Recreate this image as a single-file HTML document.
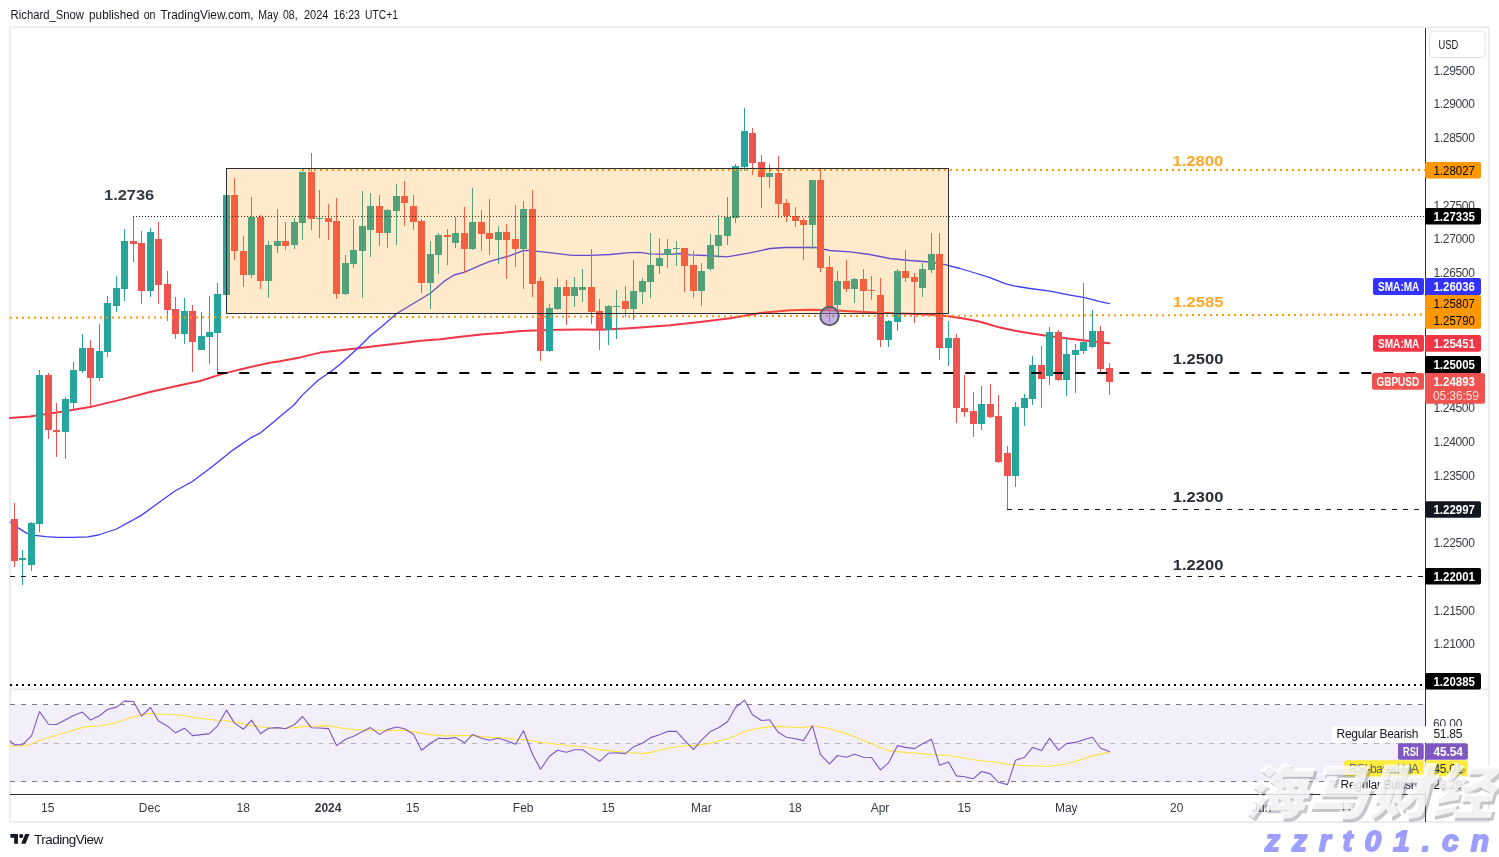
<!DOCTYPE html>
<html lang="en"><head><meta charset="utf-8"><title>GBPUSD chart</title>
<style>
html,body{margin:0;padding:0;background:#fff;}
body{width:1499px;height:857px;overflow:hidden;position:relative;font-family:"Liberation Sans","Noto Sans CJK SC",sans-serif;}
svg{position:absolute;left:0;top:0;display:block}
text{font-family:"Liberation Sans","Noto Sans CJK SC",sans-serif;}
.ax{font-size:12px;fill:#363a45}
.bx{font-size:12px;font-weight:bold;fill:#fff}
.an{font-size:14.5px;font-weight:bold}
.tm{font-size:12px;fill:#363a45}
</style></head><body>
<svg width="1499" height="857" viewBox="0 0 1499 857">
<rect x="0" y="0" width="1499" height="857" fill="#fff"/>
<text y="19" font-size="12" fill="#131722"><tspan x="10.6" textLength="73.4" lengthAdjust="spacingAndGlyphs">Richard_Snow</tspan> <tspan x="89.1" textLength="50.2" lengthAdjust="spacingAndGlyphs">published</tspan> <tspan x="143.7" textLength="11.8" lengthAdjust="spacingAndGlyphs">on</tspan> <tspan x="160.5" textLength="93.1" lengthAdjust="spacingAndGlyphs">TradingView.com,</tspan> <tspan x="258.3" textLength="19.9" lengthAdjust="spacingAndGlyphs">May</tspan> <tspan x="283" textLength="14.6" lengthAdjust="spacingAndGlyphs">08,</tspan> <tspan x="304" textLength="24.4" lengthAdjust="spacingAndGlyphs">2024</tspan> <tspan x="333.4" textLength="26.6" lengthAdjust="spacingAndGlyphs">16:23</tspan> <tspan x="365.1" textLength="32.8" lengthAdjust="spacingAndGlyphs">UTC+1</tspan></text>
<rect x="10" y="27.3" width="1479" height="794.7" fill="none" stroke="#ecedf3" stroke-width="2"/>
<rect x="10" y="704.5" width="1415" height="77" fill="#f2eefa"/>
<line x1="10" y1="689.3" x2="1489" y2="689.3" stroke="#e4e6ee" stroke-width="1.4"/>
<polyline points="10.0,418.1 30.0,416.5 60.0,411.9 90.0,407.1 120.0,399.9 150.0,392.0 180.0,385.2 200.0,381.0 220.0,374.6 240.0,369.4 270.0,362.7 280.0,361.3 300.0,357.4 320.1,352.6 340.2,350.2 358.3,348.2 380.3,345.6 400.4,343.2 420.5,340.8 440.5,339.2 460.6,336.8 480.7,334.6 500.7,332.9 520.8,331.1 540.9,330.2 561.0,329.7 580.0,329.5 600.0,329.7 625.0,328.4 640.0,327.4 670.0,325.3 700.0,322.0 730.0,318.3 760.0,312.9 790.0,310.3 810.0,309.7 830.0,310.3 850.0,311.3 880.0,312.7 910.0,313.7 940.0,315.3 950.0,316.6 965.0,318.8 980.0,321.8 1000.0,327.6 1015.0,330.8 1030.0,333.2 1050.0,336.2 1070.0,338.8 1085.0,340.6 1100.0,342.2 1109.5,343.2" fill="none" stroke="#f23645" stroke-width="2" stroke-linejoin="round" stroke-linecap="round" />
<polyline points="10.4,522.3 19.0,528.4 27.0,533.4 35.0,535.4 46.0,536.6 58.0,537.4 72.0,537.4 88.0,536.8 98.3,535.0 116.4,529.0 140.5,515.9 156.5,504.3 174.6,491.2 192.7,481.2 212.7,466.2 232.8,450.1 250.9,437.7 259.9,433.2 276.0,420.0 280.0,416.4 294.0,405.0 302.0,395.4 318.1,380.3 329.2,372.7 340.2,364.3 358.3,347.8 370.3,335.8 382.3,326.1 396.4,313.7 410.0,305.5 430.0,293.5 444.0,281.4 454.0,275.0 464.0,272.4 480.0,265.4 490.0,261.3 510.0,255.7 523.0,250.7 528.0,250.3 540.0,251.7 560.0,253.9 572.0,255.3 590.0,255.3 610.0,254.5 630.0,252.7 640.0,252.3 650.0,253.9 670.0,254.3 680.0,253.5 690.0,254.9 706.0,255.5 727.0,256.9 750.0,252.9 770.0,248.5 785.0,247.5 800.0,247.5 815.0,247.5 830.0,250.5 850.0,251.9 870.0,254.5 890.0,258.5 910.0,260.5 930.0,262.0 945.0,264.6 960.0,268.5 975.0,273.0 990.0,277.6 1005.0,283.6 1015.0,286.1 1030.0,288.5 1050.0,291.1 1070.0,295.1 1085.0,297.7 1100.0,301.7 1109.5,303.7" fill="none" stroke="#3d3dff" stroke-width="1.3" stroke-linejoin="round" stroke-linecap="round" />
<g shape-rendering="crispEdges">
<rect x="14" y="503" width="1" height="64" fill="#ef5350"/>
<rect x="11" y="519" width="7" height="42" fill="#ef5350"/>
<rect x="22" y="550" width="1" height="35" fill="#26a69a"/>
<rect x="19" y="558" width="7" height="2" fill="#26a69a"/>
<rect x="31" y="522" width="1" height="49" fill="#26a69a"/>
<rect x="28" y="523" width="7" height="42" fill="#26a69a"/>
<rect x="39" y="370" width="1" height="162" fill="#26a69a"/>
<rect x="36" y="375" width="7" height="149" fill="#26a69a"/>
<rect x="48" y="373" width="1" height="66" fill="#ef5350"/>
<rect x="45" y="375" width="7" height="55" fill="#ef5350"/>
<rect x="56" y="403" width="1" height="54" fill="#ef5350"/>
<rect x="53" y="430" width="7" height="2" fill="#ef5350"/>
<rect x="65" y="397" width="1" height="62" fill="#26a69a"/>
<rect x="62" y="399" width="7" height="33" fill="#26a69a"/>
<rect x="73" y="362" width="1" height="48" fill="#26a69a"/>
<rect x="70" y="370" width="7" height="33" fill="#26a69a"/>
<rect x="82" y="334" width="1" height="39" fill="#26a69a"/>
<rect x="79" y="348" width="7" height="23" fill="#26a69a"/>
<rect x="90" y="340" width="1" height="66" fill="#ef5350"/>
<rect x="87" y="348" width="7" height="30" fill="#ef5350"/>
<rect x="99" y="324" width="1" height="57" fill="#26a69a"/>
<rect x="96" y="351" width="7" height="27" fill="#26a69a"/>
<rect x="107" y="296" width="1" height="61" fill="#26a69a"/>
<rect x="104" y="303" width="7" height="49" fill="#26a69a"/>
<rect x="116" y="276" width="1" height="36" fill="#26a69a"/>
<rect x="113" y="288" width="7" height="18" fill="#26a69a"/>
<rect x="124" y="229" width="1" height="72" fill="#26a69a"/>
<rect x="121" y="241" width="7" height="48" fill="#26a69a"/>
<rect x="133" y="217" width="1" height="45" fill="#ef5350"/>
<rect x="130" y="241" width="7" height="3" fill="#ef5350"/>
<rect x="141" y="231" width="1" height="73" fill="#ef5350"/>
<rect x="138" y="243" width="7" height="48" fill="#ef5350"/>
<rect x="150" y="228" width="1" height="69" fill="#26a69a"/>
<rect x="147" y="232" width="7" height="59" fill="#26a69a"/>
<rect x="158" y="222" width="1" height="82" fill="#ef5350"/>
<rect x="155" y="239" width="7" height="46" fill="#ef5350"/>
<rect x="167" y="271" width="1" height="50" fill="#ef5350"/>
<rect x="164" y="284" width="7" height="26" fill="#ef5350"/>
<rect x="175" y="297" width="1" height="42" fill="#ef5350"/>
<rect x="172" y="309" width="7" height="25" fill="#ef5350"/>
<rect x="184" y="298" width="1" height="46" fill="#26a69a"/>
<rect x="181" y="311" width="7" height="23" fill="#26a69a"/>
<rect x="192" y="305" width="1" height="67" fill="#ef5350"/>
<rect x="189" y="311" width="7" height="31" fill="#ef5350"/>
<rect x="201" y="312" width="1" height="38" fill="#26a69a"/>
<rect x="198" y="336" width="7" height="14" fill="#26a69a"/>
<rect x="209" y="296" width="1" height="68" fill="#26a69a"/>
<rect x="206" y="332" width="7" height="5" fill="#26a69a"/>
<rect x="217" y="283" width="1" height="90" fill="#26a69a"/>
<rect x="214" y="294" width="7" height="39" fill="#26a69a"/>
<rect x="226" y="195" width="1" height="100" fill="#26a69a"/>
<rect x="223" y="195" width="7" height="100" fill="#26a69a"/>
<rect x="234" y="178" width="1" height="82" fill="#ef5350"/>
<rect x="231" y="195" width="7" height="56" fill="#ef5350"/>
<rect x="243" y="236" width="1" height="51" fill="#ef5350"/>
<rect x="240" y="251" width="7" height="24" fill="#ef5350"/>
<rect x="251" y="197" width="1" height="81" fill="#26a69a"/>
<rect x="248" y="217" width="7" height="58" fill="#26a69a"/>
<rect x="260" y="215" width="1" height="74" fill="#ef5350"/>
<rect x="257" y="217" width="7" height="64" fill="#ef5350"/>
<rect x="268" y="241" width="1" height="57" fill="#26a69a"/>
<rect x="265" y="245" width="7" height="36" fill="#26a69a"/>
<rect x="277" y="209" width="1" height="44" fill="#26a69a"/>
<rect x="274" y="241" width="7" height="5" fill="#26a69a"/>
<rect x="285" y="222" width="1" height="28" fill="#ef5350"/>
<rect x="282" y="241" width="7" height="5" fill="#ef5350"/>
<rect x="294" y="218" width="1" height="31" fill="#26a69a"/>
<rect x="291" y="222" width="7" height="23" fill="#26a69a"/>
<rect x="302" y="170" width="1" height="70" fill="#26a69a"/>
<rect x="299" y="172" width="7" height="51" fill="#26a69a"/>
<rect x="311" y="153" width="1" height="77" fill="#ef5350"/>
<rect x="308" y="172" width="7" height="47" fill="#ef5350"/>
<rect x="319" y="190" width="1" height="48" fill="#26a69a"/>
<rect x="316" y="218" width="7" height="1" fill="#26a69a"/>
<rect x="328" y="204" width="1" height="36" fill="#ef5350"/>
<rect x="325" y="218" width="7" height="4" fill="#ef5350"/>
<rect x="336" y="198" width="1" height="101" fill="#ef5350"/>
<rect x="333" y="221" width="7" height="73" fill="#ef5350"/>
<rect x="345" y="255" width="1" height="40" fill="#26a69a"/>
<rect x="342" y="263" width="7" height="31" fill="#26a69a"/>
<rect x="353" y="219" width="1" height="49" fill="#26a69a"/>
<rect x="350" y="250" width="7" height="14" fill="#26a69a"/>
<rect x="362" y="191" width="1" height="107" fill="#26a69a"/>
<rect x="359" y="226" width="7" height="25" fill="#26a69a"/>
<rect x="370" y="193" width="1" height="64" fill="#26a69a"/>
<rect x="367" y="206" width="7" height="24" fill="#26a69a"/>
<rect x="379" y="195" width="1" height="51" fill="#ef5350"/>
<rect x="376" y="206" width="7" height="27" fill="#ef5350"/>
<rect x="387" y="209" width="1" height="39" fill="#26a69a"/>
<rect x="384" y="210" width="7" height="23" fill="#26a69a"/>
<rect x="396" y="184" width="1" height="61" fill="#26a69a"/>
<rect x="393" y="196" width="7" height="15" fill="#26a69a"/>
<rect x="404" y="181" width="1" height="45" fill="#ef5350"/>
<rect x="401" y="196" width="7" height="7" fill="#ef5350"/>
<rect x="413" y="195" width="1" height="35" fill="#ef5350"/>
<rect x="410" y="206" width="7" height="16" fill="#ef5350"/>
<rect x="421" y="219" width="1" height="74" fill="#ef5350"/>
<rect x="418" y="221" width="7" height="62" fill="#ef5350"/>
<rect x="430" y="241" width="1" height="68" fill="#26a69a"/>
<rect x="427" y="254" width="7" height="29" fill="#26a69a"/>
<rect x="438" y="233" width="1" height="41" fill="#26a69a"/>
<rect x="435" y="235" width="7" height="20" fill="#26a69a"/>
<rect x="447" y="229" width="1" height="36" fill="#ef5350"/>
<rect x="444" y="235" width="7" height="2" fill="#ef5350"/>
<rect x="455" y="217" width="1" height="31" fill="#26a69a"/>
<rect x="452" y="233" width="7" height="10" fill="#26a69a"/>
<rect x="464" y="207" width="1" height="66" fill="#ef5350"/>
<rect x="461" y="233" width="7" height="16" fill="#ef5350"/>
<rect x="472" y="188" width="1" height="62" fill="#26a69a"/>
<rect x="469" y="222" width="7" height="27" fill="#26a69a"/>
<rect x="481" y="210" width="1" height="41" fill="#ef5350"/>
<rect x="478" y="222" width="7" height="12" fill="#ef5350"/>
<rect x="489" y="199" width="1" height="56" fill="#ef5350"/>
<rect x="486" y="233" width="7" height="6" fill="#ef5350"/>
<rect x="498" y="226" width="1" height="38" fill="#26a69a"/>
<rect x="495" y="232" width="7" height="8" fill="#26a69a"/>
<rect x="506" y="224" width="1" height="55" fill="#ef5350"/>
<rect x="503" y="232" width="7" height="8" fill="#ef5350"/>
<rect x="515" y="205" width="1" height="62" fill="#ef5350"/>
<rect x="512" y="239" width="7" height="10" fill="#ef5350"/>
<rect x="523" y="201" width="1" height="88" fill="#26a69a"/>
<rect x="520" y="209" width="7" height="40" fill="#26a69a"/>
<rect x="532" y="190" width="1" height="107" fill="#ef5350"/>
<rect x="529" y="209" width="7" height="75" fill="#ef5350"/>
<rect x="540" y="277" width="1" height="84" fill="#ef5350"/>
<rect x="537" y="281" width="7" height="70" fill="#ef5350"/>
<rect x="549" y="304" width="1" height="48" fill="#26a69a"/>
<rect x="546" y="308" width="7" height="43" fill="#26a69a"/>
<rect x="557" y="278" width="1" height="32" fill="#26a69a"/>
<rect x="554" y="287" width="7" height="22" fill="#26a69a"/>
<rect x="566" y="280" width="1" height="45" fill="#ef5350"/>
<rect x="563" y="287" width="7" height="9" fill="#ef5350"/>
<rect x="574" y="277" width="1" height="30" fill="#26a69a"/>
<rect x="571" y="287" width="7" height="9" fill="#26a69a"/>
<rect x="582" y="269" width="1" height="33" fill="#26a69a"/>
<rect x="579" y="287" width="7" height="3" fill="#26a69a"/>
<rect x="591" y="249" width="1" height="75" fill="#ef5350"/>
<rect x="588" y="287" width="7" height="25" fill="#ef5350"/>
<rect x="599" y="299" width="1" height="51" fill="#ef5350"/>
<rect x="596" y="311" width="7" height="19" fill="#ef5350"/>
<rect x="608" y="305" width="1" height="40" fill="#26a69a"/>
<rect x="605" y="306" width="7" height="24" fill="#26a69a"/>
<rect x="616" y="290" width="1" height="49" fill="#26a69a"/>
<rect x="613" y="306" width="7" height="1" fill="#26a69a"/>
<rect x="625" y="286" width="1" height="31" fill="#ef5350"/>
<rect x="622" y="301" width="7" height="8" fill="#ef5350"/>
<rect x="633" y="260" width="1" height="60" fill="#26a69a"/>
<rect x="630" y="291" width="7" height="18" fill="#26a69a"/>
<rect x="642" y="278" width="1" height="26" fill="#26a69a"/>
<rect x="639" y="281" width="7" height="11" fill="#26a69a"/>
<rect x="650" y="233" width="1" height="65" fill="#26a69a"/>
<rect x="647" y="265" width="7" height="17" fill="#26a69a"/>
<rect x="659" y="238" width="1" height="36" fill="#26a69a"/>
<rect x="656" y="258" width="7" height="8" fill="#26a69a"/>
<rect x="667" y="239" width="1" height="29" fill="#26a69a"/>
<rect x="664" y="249" width="7" height="6" fill="#26a69a"/>
<rect x="676" y="241" width="1" height="25" fill="#26a69a"/>
<rect x="673" y="248" width="7" height="1" fill="#26a69a"/>
<rect x="684" y="248" width="1" height="44" fill="#ef5350"/>
<rect x="681" y="248" width="7" height="18" fill="#ef5350"/>
<rect x="693" y="251" width="1" height="47" fill="#ef5350"/>
<rect x="690" y="265" width="7" height="26" fill="#ef5350"/>
<rect x="701" y="263" width="1" height="43" fill="#26a69a"/>
<rect x="698" y="271" width="7" height="20" fill="#26a69a"/>
<rect x="710" y="234" width="1" height="37" fill="#26a69a"/>
<rect x="707" y="245" width="7" height="24" fill="#26a69a"/>
<rect x="718" y="215" width="1" height="43" fill="#26a69a"/>
<rect x="715" y="235" width="7" height="11" fill="#26a69a"/>
<rect x="727" y="197" width="1" height="48" fill="#26a69a"/>
<rect x="724" y="217" width="7" height="19" fill="#26a69a"/>
<rect x="735" y="164" width="1" height="59" fill="#26a69a"/>
<rect x="732" y="166" width="7" height="52" fill="#26a69a"/>
<rect x="744" y="108" width="1" height="63" fill="#26a69a"/>
<rect x="741" y="131" width="7" height="36" fill="#26a69a"/>
<rect x="752" y="128" width="1" height="47" fill="#ef5350"/>
<rect x="749" y="133" width="7" height="30" fill="#ef5350"/>
<rect x="761" y="155" width="1" height="53" fill="#ef5350"/>
<rect x="758" y="162" width="7" height="15" fill="#ef5350"/>
<rect x="769" y="164" width="1" height="24" fill="#26a69a"/>
<rect x="766" y="173" width="7" height="4" fill="#26a69a"/>
<rect x="778" y="156" width="1" height="62" fill="#ef5350"/>
<rect x="775" y="173" width="7" height="31" fill="#ef5350"/>
<rect x="786" y="199" width="1" height="23" fill="#ef5350"/>
<rect x="783" y="203" width="7" height="13" fill="#ef5350"/>
<rect x="795" y="207" width="1" height="20" fill="#ef5350"/>
<rect x="792" y="216" width="7" height="5" fill="#ef5350"/>
<rect x="803" y="218" width="1" height="42" fill="#ef5350"/>
<rect x="800" y="220" width="7" height="5" fill="#ef5350"/>
<rect x="812" y="180" width="1" height="69" fill="#26a69a"/>
<rect x="809" y="180" width="7" height="45" fill="#26a69a"/>
<rect x="820" y="168" width="1" height="104" fill="#ef5350"/>
<rect x="817" y="180" width="7" height="88" fill="#ef5350"/>
<rect x="829" y="256" width="1" height="66" fill="#ef5350"/>
<rect x="826" y="267" width="7" height="42" fill="#ef5350"/>
<rect x="837" y="271" width="1" height="39" fill="#26a69a"/>
<rect x="834" y="281" width="7" height="24" fill="#26a69a"/>
<rect x="846" y="260" width="1" height="32" fill="#ef5350"/>
<rect x="843" y="281" width="7" height="8" fill="#ef5350"/>
<rect x="854" y="278" width="1" height="25" fill="#26a69a"/>
<rect x="851" y="279" width="7" height="10" fill="#26a69a"/>
<rect x="863" y="269" width="1" height="43" fill="#ef5350"/>
<rect x="860" y="279" width="7" height="12" fill="#ef5350"/>
<rect x="871" y="276" width="1" height="24" fill="#ef5350"/>
<rect x="868" y="290" width="7" height="1" fill="#ef5350"/>
<rect x="880" y="278" width="1" height="69" fill="#ef5350"/>
<rect x="877" y="295" width="7" height="45" fill="#ef5350"/>
<rect x="888" y="320" width="1" height="27" fill="#26a69a"/>
<rect x="885" y="321" width="7" height="19" fill="#26a69a"/>
<rect x="897" y="269" width="1" height="62" fill="#26a69a"/>
<rect x="894" y="271" width="7" height="51" fill="#26a69a"/>
<rect x="905" y="250" width="1" height="32" fill="#ef5350"/>
<rect x="902" y="271" width="7" height="7" fill="#ef5350"/>
<rect x="914" y="273" width="1" height="50" fill="#ef5350"/>
<rect x="911" y="277" width="7" height="5" fill="#ef5350"/>
<rect x="922" y="263" width="1" height="34" fill="#26a69a"/>
<rect x="919" y="269" width="7" height="19" fill="#26a69a"/>
<rect x="931" y="233" width="1" height="40" fill="#26a69a"/>
<rect x="928" y="254" width="7" height="16" fill="#26a69a"/>
<rect x="939" y="233" width="1" height="127" fill="#ef5350"/>
<rect x="936" y="254" width="7" height="94" fill="#ef5350"/>
<rect x="948" y="321" width="1" height="45" fill="#26a69a"/>
<rect x="945" y="338" width="7" height="10" fill="#26a69a"/>
<rect x="956" y="334" width="1" height="89" fill="#ef5350"/>
<rect x="953" y="338" width="7" height="70" fill="#ef5350"/>
<rect x="964" y="375" width="1" height="42" fill="#ef5350"/>
<rect x="961" y="408" width="7" height="4" fill="#ef5350"/>
<rect x="973" y="392" width="1" height="45" fill="#ef5350"/>
<rect x="970" y="411" width="7" height="13" fill="#ef5350"/>
<rect x="981" y="386" width="1" height="44" fill="#26a69a"/>
<rect x="978" y="404" width="7" height="20" fill="#26a69a"/>
<rect x="990" y="384" width="1" height="34" fill="#ef5350"/>
<rect x="987" y="404" width="7" height="13" fill="#ef5350"/>
<rect x="998" y="395" width="1" height="68" fill="#ef5350"/>
<rect x="995" y="416" width="7" height="46" fill="#ef5350"/>
<rect x="1007" y="446" width="1" height="63" fill="#ef5350"/>
<rect x="1004" y="453" width="7" height="23" fill="#ef5350"/>
<rect x="1015" y="402" width="1" height="85" fill="#26a69a"/>
<rect x="1012" y="407" width="7" height="69" fill="#26a69a"/>
<rect x="1024" y="394" width="1" height="32" fill="#26a69a"/>
<rect x="1021" y="398" width="7" height="10" fill="#26a69a"/>
<rect x="1032" y="356" width="1" height="49" fill="#26a69a"/>
<rect x="1029" y="365" width="7" height="34" fill="#26a69a"/>
<rect x="1041" y="346" width="1" height="62" fill="#ef5350"/>
<rect x="1038" y="365" width="7" height="14" fill="#ef5350"/>
<rect x="1049" y="327" width="1" height="58" fill="#26a69a"/>
<rect x="1046" y="332" width="7" height="44" fill="#26a69a"/>
<rect x="1058" y="330" width="1" height="51" fill="#ef5350"/>
<rect x="1055" y="332" width="7" height="48" fill="#ef5350"/>
<rect x="1066" y="339" width="1" height="57" fill="#26a69a"/>
<rect x="1063" y="354" width="7" height="26" fill="#26a69a"/>
<rect x="1075" y="344" width="1" height="49" fill="#26a69a"/>
<rect x="1072" y="350" width="7" height="5" fill="#26a69a"/>
<rect x="1083" y="283" width="1" height="71" fill="#26a69a"/>
<rect x="1080" y="342" width="7" height="9" fill="#26a69a"/>
<rect x="1092" y="310" width="1" height="38" fill="#26a69a"/>
<rect x="1089" y="331" width="7" height="16" fill="#26a69a"/>
<rect x="1100" y="326" width="1" height="46" fill="#ef5350"/>
<rect x="1097" y="331" width="7" height="38" fill="#ef5350"/>
<rect x="1109" y="363" width="1" height="32" fill="#ef5350"/>
<rect x="1106" y="368" width="7" height="14" fill="#ef5350"/>
</g>
<line x1="133" y1="216.5" x2="1425" y2="216.5" stroke="#131722" stroke-width="1" stroke-dasharray="1 2"/>
<rect x="226.5" y="168.5" width="722" height="145" fill="rgba(255,152,0,0.2)" stroke="#2a2e39" stroke-width="1"/>
<line x1="302" y1="170" x2="1426" y2="170" stroke="#ff9800" stroke-width="2" stroke-dasharray="2 4"/>
<line x1="10" y1="317.8" x2="1426" y2="314.6" stroke="#ff9800" stroke-width="2" stroke-dasharray="2 4"/>
<line x1="217.3" y1="373" x2="1416" y2="373" stroke="#000" stroke-width="2" stroke-dasharray="10 12"/>
<line x1="1007" y1="509.5" x2="1425" y2="509.5" stroke="#131722" stroke-width="1" stroke-dasharray="5 6"/>
<line x1="10" y1="576.5" x2="1425" y2="576.5" stroke="#131722" stroke-width="1" stroke-dasharray="5 6"/>
<line x1="10" y1="685" x2="1424" y2="685" stroke="#000" stroke-width="2" stroke-dasharray="2 4"/>
<circle cx="829.5" cy="316" r="9.2" fill="rgba(149,117,205,0.55)" stroke="#5d606b" stroke-width="2"/>
<text class="an" x="104" y="199.6" fill="#363a45" textLength="50.2" lengthAdjust="spacingAndGlyphs">1.2736</text>
<text class="an" x="1172.4" y="165.8" fill="#ffa726" textLength="51" lengthAdjust="spacingAndGlyphs">1.2800</text>
<text class="an" x="1172.8" y="306.7" fill="#ffa726" textLength="50.6" lengthAdjust="spacingAndGlyphs">1.2585</text>
<text class="an" x="1172.8" y="364.3" fill="#2a2e39" textLength="50.6" lengthAdjust="spacingAndGlyphs">1.2500</text>
<text class="an" x="1172.8" y="502" fill="#2a2e39" textLength="50.6" lengthAdjust="spacingAndGlyphs">1.2300</text>
<text class="an" x="1172.8" y="569.9" fill="#2a2e39" textLength="50.6" lengthAdjust="spacingAndGlyphs">1.2200</text>
<line x1="10" y1="704.5" x2="1425" y2="704.5" stroke="#787b86" stroke-width="1" stroke-dasharray="5 6"/>
<line x1="10" y1="743.5" x2="1425" y2="743.5" stroke="#b2b5be" stroke-width="1" stroke-dasharray="5 6"/>
<line x1="10" y1="781.5" x2="1425" y2="781.5" stroke="#787b86" stroke-width="1" stroke-dasharray="5 6"/>
<polyline points="10.4,746.2 22.0,745.8 31.0,744.2 39.0,740.8 56.0,735.2 65.0,732.8 82.0,727.6 90.0,726.4 99.0,726.0 107.0,724.8 116.0,722.7 124.0,720.1 133.0,717.1 141.5,715.1 150.0,713.3 158.5,714.1 166.6,714.3 175.0,714.7 183.6,715.5 192.0,717.1 200.7,718.3 209.0,719.5 217.7,720.3 226.0,720.7 234.4,722.3 243.0,723.7 251.0,725.4 260.0,726.8 269.0,727.8 277.0,728.2 285.0,728.2 293.4,727.6 302.0,726.6 311.0,726.2 328.0,725.6 336.7,727.2 345.0,728.8 353.7,729.6 370.5,730.2 388.0,730.6 404.6,730.2 413.0,731.6 421.6,733.4 430.0,734.6 438.6,735.4 447.0,736.0 455.6,735.6 472.6,735.6 481.0,736.6 498.0,737.8 515.0,739.0 523.5,739.6 532.0,740.8 540.5,742.4 549.0,743.2 557.5,744.2 566.0,745.2 574.4,746.0 583.0,746.8 591.4,748.2 600.0,749.6 608.4,750.6 617.0,751.6 625.4,752.2 634.0,753.0 642.4,753.6 651.0,752.4 659.3,750.2 667.8,748.4 676.3,747.0 684.8,745.8 693.3,745.6 701.8,744.6 710.3,743.2 718.8,740.8 727.3,739.0 735.8,735.6 744.2,731.8 752.7,729.2 761.2,727.8 769.7,726.6 778.2,726.4 786.7,726.8 795.2,727.4 803.7,727.6 812.2,726.0 820.7,727.0 829.1,728.8 837.6,731.0 846.1,733.6 854.6,736.8 863.1,740.2 871.6,743.6 880.1,747.6 888.6,750.6 897.1,751.6 905.5,752.4 914.0,753.0 922.5,753.6 931.0,754.5 939.5,755.1 948.0,755.3 956.5,756.7 965.0,758.3 973.5,759.7 982.0,760.7 990.5,761.7 999.0,762.7 1007.4,764.3 1015.9,765.3 1024.4,765.7 1032.9,765.9 1041.4,766.3 1049.9,766.1 1058.4,765.1 1066.9,763.7 1075.4,761.3 1083.8,758.7 1092.3,755.9 1100.8,753.9 1109.3,752.4" fill="none" stroke="#fbe33a" stroke-width="1.1" stroke-linejoin="round" stroke-linecap="round" />
<polyline points="10.0,741.0 14.5,744.9 22.5,744.6 31.5,735.8 39.5,711.6 48.5,724.2 56.5,724.5 65.5,719.7 73.5,715.5 82.5,712.1 90.5,720.1 99.5,715.7 107.5,709.5 116.5,707.1 124.5,701.1 133.5,701.5 141.5,716.1 150.5,707.5 158.5,721.1 167.5,726.2 175.5,732.8 184.5,728.2 192.5,735.6 201.5,734.6 209.5,733.6 217.5,725.8 226.5,710.1 234.5,723.1 243.5,729.2 251.5,720.1 260.5,733.8 268.5,728.2 277.5,727.6 285.5,728.8 294.5,724.6 302.5,716.5 311.5,727.8 319.5,728.0 328.5,728.6 336.5,745.6 345.5,739.2 353.5,736.2 362.5,731.4 370.5,727.6 379.5,734.4 387.5,729.6 396.5,727.0 404.5,728.8 413.5,734.2 421.5,750.2 430.5,743.2 438.5,738.2 447.5,738.6 455.5,737.6 464.5,742.8 472.5,734.6 481.5,738.2 489.5,740.2 498.5,738.2 506.5,740.8 515.5,744.2 523.5,730.8 532.5,754.3 540.5,769.3 549.5,756.3 557.5,750.2 566.5,752.2 574.5,749.8 582.5,749.8 591.5,755.9 599.5,761.3 608.5,753.2 616.5,752.8 625.5,753.6 633.5,746.8 642.5,743.2 650.5,737.6 659.5,734.8 667.5,731.4 676.5,731.4 684.5,740.2 693.5,749.6 701.5,740.2 710.5,731.4 718.5,727.8 727.5,721.7 735.5,707.5 744.5,700.1 752.5,714.7 761.5,720.5 769.5,719.7 778.5,732.6 786.5,737.2 795.5,738.8 803.5,740.6 812.5,725.8 820.5,754.7 829.5,763.9 837.5,755.5 846.5,757.3 854.5,754.3 863.5,757.3 871.5,757.5 880.5,769.9 888.5,762.9 897.5,745.6 905.5,747.4 914.5,748.6 922.5,743.8 931.5,739.2 939.5,765.3 948.5,761.9 956.5,775.9 964.5,776.7 973.5,778.7 981.5,771.5 990.5,773.9 998.5,782.3 1007.5,784.6 1015.5,760.3 1024.5,757.3 1032.5,747.4 1041.5,750.6 1049.5,738.2 1058.5,750.2 1066.5,743.6 1075.5,742.4 1083.5,739.8 1092.5,737.2 1100.5,748.2 1109.5,751.6" fill="none" stroke="#7e57c2" stroke-width="1.1" stroke-linejoin="round" stroke-linecap="round" />
<line x1="1425.5" y1="28" x2="1425.5" y2="822" stroke="#2a2e39" stroke-width="1"/>
<line x1="10" y1="794.5" x2="1425" y2="794.5" stroke="#2a2e39" stroke-width="1"/>
<rect x="1429.5" y="31" width="55.5" height="26.5" rx="4" fill="#fff" stroke="#e0e3eb" stroke-width="1"/>
<text x="1438.6" y="48.7" font-size="12" fill="#131722" textLength="19.8" lengthAdjust="spacingAndGlyphs">USD</text>
<text class="ax" x="1433.5" y="75.0" textLength="41.4" lengthAdjust="spacing">1.29500</text>
<text class="ax" x="1433.5" y="108.3" textLength="41.4" lengthAdjust="spacing">1.29000</text>
<text class="ax" x="1433.5" y="142.4" textLength="41.4" lengthAdjust="spacing">1.28500</text>
<text class="ax" x="1433.5" y="209.9" textLength="41.4" lengthAdjust="spacing">1.27500</text>
<text class="ax" x="1433.5" y="242.8" textLength="41.4" lengthAdjust="spacing">1.27000</text>
<text class="ax" x="1433.5" y="277.3" textLength="41.4" lengthAdjust="spacing">1.26500</text>
<text class="ax" x="1433.5" y="412.2" textLength="41.4" lengthAdjust="spacing">1.24500</text>
<text class="ax" x="1433.5" y="445.9" textLength="41.4" lengthAdjust="spacing">1.24000</text>
<text class="ax" x="1433.5" y="479.6" textLength="41.4" lengthAdjust="spacing">1.23500</text>
<text class="ax" x="1433.5" y="547.1" textLength="41.4" lengthAdjust="spacing">1.22500</text>
<text class="ax" x="1433.5" y="614.5" textLength="41.4" lengthAdjust="spacing">1.21500</text>
<text class="ax" x="1433.5" y="648.2" textLength="41.4" lengthAdjust="spacing">1.21000</text>
<text class="ax" x="1433" y="728.2" textLength="29.5" lengthAdjust="spacing">60.00</text>
<rect x="1425" y="162" width="56" height="16.5" rx="2" fill="#ff9800"/>
<text x="1433.5" y="174.6" font-size="12" font-weight="normal" fill="#000" textLength="41.4" lengthAdjust="spacingAndGlyphs">1.28027</text>
<rect x="1425" y="208" width="56" height="16.5" rx="2" fill="#000"/>
<text x="1433.5" y="220.7" font-size="12" font-weight="bold" fill="#fff" textLength="41.4" lengthAdjust="spacingAndGlyphs">1.27335</text>
<rect x="1373" y="278" width="51" height="17" rx="2" fill="#3333ff"/>
<text x="1378" y="291" font-size="12" font-weight="bold" fill="#fff" textLength="41.4" lengthAdjust="spacingAndGlyphs">SMA:MA</text>
<rect x="1425" y="278" width="56" height="17" rx="2" fill="#3333ff"/>
<text x="1433.5" y="291" font-size="12" font-weight="bold" fill="#fff" textLength="41.4" lengthAdjust="spacingAndGlyphs">1.26036</text>
<rect x="1425" y="295" width="56" height="33.7" rx="2" fill="#ff9800"/>
<text x="1433.5" y="308.3" font-size="12" font-weight="normal" fill="#000" textLength="41.4" lengthAdjust="spacingAndGlyphs">1.25807</text>
<text x="1433.5" y="325.1" font-size="12" font-weight="normal" fill="#000" textLength="41.4" lengthAdjust="spacingAndGlyphs">1.25790</text>
<rect x="1373" y="335" width="51" height="16.7" rx="2" fill="#f23645"/>
<text x="1378" y="347.8" font-size="12" font-weight="bold" fill="#fff" textLength="41.4" lengthAdjust="spacingAndGlyphs">SMA:MA</text>
<rect x="1425" y="335" width="56" height="16.7" rx="2" fill="#f23645"/>
<text x="1433.5" y="347.8" font-size="12" font-weight="bold" fill="#fff" textLength="41.4" lengthAdjust="spacingAndGlyphs">1.25451</text>
<rect x="1425" y="356" width="56" height="17.2" rx="2" fill="#000"/>
<text x="1433.5" y="369.3" font-size="12" font-weight="bold" fill="#fff" textLength="41.4" lengthAdjust="spacingAndGlyphs">1.25005</text>
<rect x="1372" y="373" width="52" height="16.7" rx="2" fill="#ef5350"/>
<text x="1376.6" y="385.9" font-size="12" font-weight="bold" fill="#fff" textLength="42.5" lengthAdjust="spacingAndGlyphs">GBPUSD</text>
<rect x="1425" y="373" width="60" height="30.7" rx="2" fill="#ef5350"/>
<text x="1433.5" y="385.9" font-size="12" font-weight="bold" fill="#fff" textLength="41.4" lengthAdjust="spacingAndGlyphs">1.24893</text>
<text x="1433" y="400.2" font-size="12" fill="#fbdcdb" textLength="46" lengthAdjust="spacing">05:36:59</text>
<rect x="1425" y="501.2" width="56" height="16.5" rx="2" fill="#131722"/>
<text x="1433.5" y="513.8" font-size="12" font-weight="bold" fill="#fff" textLength="41.4" lengthAdjust="spacingAndGlyphs">1.22997</text>
<rect x="1425" y="568" width="56" height="16.5" rx="2" fill="#000"/>
<text x="1433.5" y="580.6" font-size="12" font-weight="bold" fill="#fff" textLength="41.4" lengthAdjust="spacingAndGlyphs">1.22001</text>
<rect x="1425" y="673" width="56" height="16.5" rx="2" fill="#000"/>
<text x="1433.5" y="686" font-size="12" font-weight="bold" fill="#fff" textLength="41.4" lengthAdjust="spacingAndGlyphs">1.20385</text>
<rect x="1332" y="726.3" width="135" height="16.5" fill="#fff"/>
<text x="1336.6" y="738.3" font-size="12" fill="#131722" textLength="81.8" lengthAdjust="spacing">Regular Bearish</text>
<text x="1433.4" y="738.3" font-size="12" fill="#131722" textLength="29" lengthAdjust="spacing">51.85</text>
<rect x="1398" y="743.3" width="25.7" height="16.5" rx="2" fill="#7e57c2"/>
<text x="1403" y="756" font-size="12" font-weight="bold" fill="#fff" textLength="15.5" lengthAdjust="spacingAndGlyphs">RSI</text>
<rect x="1425" y="743.3" width="42.9" height="16.5" rx="2" fill="#7e57c2"/>
<text x="1433.4" y="756" font-size="12" font-weight="bold" fill="#fff" textLength="29.5" lengthAdjust="spacingAndGlyphs">45.54</text>
<rect x="1344.2" y="760.2" width="79.5" height="16.5" rx="2" fill="#ffeb3b"/>
<text x="1349" y="772.8" font-size="12" fill="#5d606b" textLength="70" lengthAdjust="spacing">RSI-based MA</text>
<rect x="1425" y="760.2" width="42.9" height="16.5" rx="2" fill="#ffeb3b"/>
<text x="1433.4" y="772.8" font-size="12" fill="#2a2e39" textLength="29" lengthAdjust="spacing">45.01</text>
<rect x="1338" y="776.7" width="129" height="16" fill="#fff"/>
<text x="1340.5" y="789" font-size="12" fill="#131722" textLength="77" lengthAdjust="spacing">Regular Bullish</text>
<text x="1433.4" y="789" font-size="12" fill="#131722" textLength="29" lengthAdjust="spacing">28.29</text>
<text class="tm" x="47.8" y="812" text-anchor="middle">15</text>
<text class="tm" x="149.5" y="812" text-anchor="middle">Dec</text>
<text class="tm" x="243.2" y="812" text-anchor="middle">18</text>
<text class="tm" x="328.1" y="812" text-anchor="middle" font-weight="bold">2024</text>
<text class="tm" x="412.8" y="812" text-anchor="middle">15</text>
<text class="tm" x="523.2" y="812" text-anchor="middle">Feb</text>
<text class="tm" x="608.1" y="812" text-anchor="middle">15</text>
<text class="tm" x="701.4" y="812" text-anchor="middle">Mar</text>
<text class="tm" x="795.1" y="812" text-anchor="middle">18</text>
<text class="tm" x="880" y="812" text-anchor="middle">Apr</text>
<text class="tm" x="964.3" y="812" text-anchor="middle">15</text>
<text class="tm" x="1066.3" y="812" text-anchor="middle">May</text>
<text class="tm" x="1176.8" y="812" text-anchor="middle">20</text>
<text class="tm" x="1261.7" y="812" text-anchor="middle">Jun</text>
<text class="tm" x="1346.6" y="812" text-anchor="middle">17</text>
<g transform="translate(10.4,831.8) scale(0.54)" fill="#131722"><path d="M14 22H7V11H0V4h14v18zM28 22h-8l7.5-18h8L28 22z"/><circle cx="20" cy="8" r="4"/></g>
<text x="34" y="844.2" font-size="13.5" fill="#131722" textLength="69.3" lengthAdjust="spacing">TradingView</text>
<g font-family="'Liberation Sans','Noto Sans CJK SC',sans-serif" font-weight="900" font-style="italic">
<text x="1243" y="813" font-size="58" opacity="0.34" fill="#5a5a6a" stroke="#5a5a6a" stroke-width="1" stroke-linejoin="round" textLength="250" lengthAdjust="spacingAndGlyphs" transform="translate(2.6,2.6)">海马财经</text>
<text x="1243" y="813" font-size="58" opacity="0.8" fill="#fff" stroke="#fff" stroke-width="1" stroke-linejoin="round" textLength="250" lengthAdjust="spacingAndGlyphs">海马财经</text>
<text x="1265" y="850.5" font-size="30" fill="#9e9eff" stroke="#9e9eff" stroke-width="1.8" stroke-linejoin="round" textLength="224" lengthAdjust="spacing">zzrt01.cn</text>
</g>
</svg></body></html>
